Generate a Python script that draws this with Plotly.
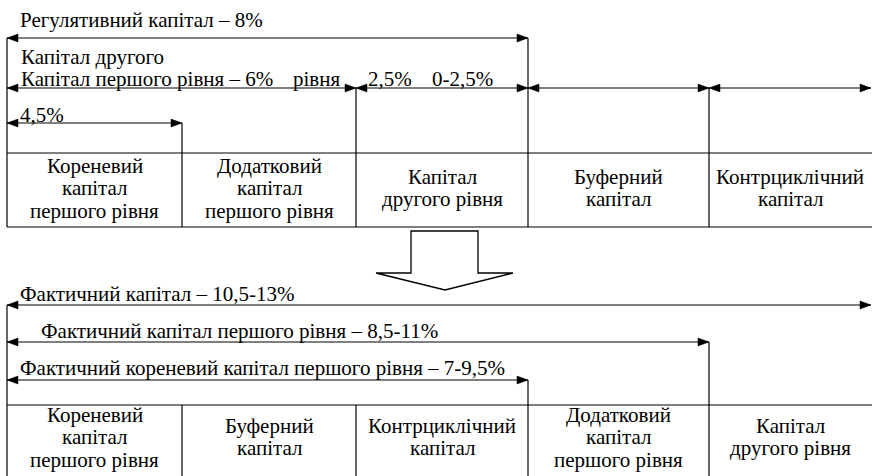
import plotly.graph_objects as go

# ---- data (labels) ----
top_cells = [["Кореневий", "капітал", "першого рівня"],
             ["Додатковий", "капітал", "першого рівня"],
             ["Капітал", "другого рівня"],
             ["Буферний", "капітал"],
             ["Контрциклічний", "капітал"]]
bottom_cells = [["Кореневий", "капітал", "першого рівня"],
                ["Буферний", "капітал"],
                ["Контрциклічний", "капітал"],
                ["Додатковий", "капітал", "першого рівня"],
                ["Капітал", "другого рівня"]]
top_spans = [("Регулятивний капітал – 8%", 0, 3),
             ("Капітал першого рівня – 6%", 0, 2),
             ("4,5%", 0, 1)]
row2_extra = [(2, 3), (3, 4), (4, 5)]
row2_texts = ["Капітал другого", "рівня", "2,5%", "0-2,5%"]
bottom_spans = [("Фактичний капітал – 10,5-13%", 0, 5),
                ("Фактичний капітал першого рівня – 8,5-11%", 0, 4),
                ("Фактичний кореневий капітал першого рівня – 7-9,5%", 0, 3)]

# ---- layout constants ----
W, H = 872, 476
XB = [7, 182, 356, 528, 709, 871]
FONT = "Liberation Serif"
FS = 21
LS = 22.5
top_arrow_y = [38, 88, 123]
top_table = (153, 227)
bot_arrow_y = [305, 342, 380]
bot_table_top = 405

shapes = []
annos = []

def line(x0, y0, x1, y1, w=1.2):
    shapes.append(dict(type="line", x0=x0, y0=y0, x1=x1, y1=y1, xref="x", yref="y",
                       line=dict(color="black", width=w)))

def head(x, y, direction):
    L, h = 11, 4
    if direction > 0:
        p = f"M{x},{y} L{x-L},{y-h} L{x-L},{y+h} Z"
    else:
        p = f"M{x},{y} L{x+L},{y-h} L{x+L},{y+h} Z"
    shapes.append(dict(type="path", path=p, xref="x", yref="y",
                       fillcolor="black", line=dict(color="black", width=0.5)))

def darrow(x0, x1, y):
    line(x0, y, x1, y)
    head(x0, y, -1)
    head(x1, y, 1)

def text(t, x, y, xanchor="left"):
    annos.append(dict(text=t, x=x, y=y, xref="x", yref="y", showarrow=False,
                      xanchor=xanchor, yanchor="middle", borderpad=0,
                      font=dict(family=FONT, size=FS, color="black")))

def cell(lines, x, yc):
    n = len(lines)
    for i, t in enumerate(lines):
        text(t, x, yc + (i - (n - 1) / 2) * LS, xanchor="center")

# ---- top part ----
for (lab, a, b), y in zip(top_spans, top_arrow_y):
    darrow(XB[a], XB[b], y)
for a, b in row2_extra:
    darrow(XB[a], XB[b], top_arrow_y[1])
text(top_spans[0][0], 19, 20)
text(row2_texts[0], 20, 57)
text(top_spans[1][0], 20, 79)
text(row2_texts[1], 292, 79)
text(row2_texts[2], 367, 79)
text(row2_texts[3], 431, 79)
text(top_spans[2][0], 19, 115)

line(XB[0], top_arrow_y[0], XB[0], top_table[1])
line(XB[1], top_arrow_y[2], XB[1], top_table[1])
line(XB[2], top_arrow_y[1], XB[2], top_table[1])
line(XB[3], top_arrow_y[0], XB[3], top_table[1])
line(XB[4], top_arrow_y[1], XB[4], top_table[1])
line(XB[0], top_table[0], W, top_table[0])
line(XB[0], top_table[1], W, top_table[1])
for i, c in enumerate(top_cells):
    cell(c, (XB[i] + XB[i + 1]) / 2, 188)

# ---- block arrow ----
shapes.append(dict(type="path", xref="x", yref="y",
                   path="M411,231 L478,231 L478,273 L513,273 L445,290 L376,273 L411,273 Z",
                   fillcolor="white", line=dict(color="black", width=1.3)))

# ---- bottom part ----
for (lab, a, b), y in zip(bottom_spans, bot_arrow_y):
    darrow(XB[a], XB[b], y)
text(bottom_spans[0][0], 19, 294)
text(bottom_spans[1][0], 40, 331)
text(bottom_spans[2][0], 19, 368)

line(XB[0], bot_arrow_y[0], XB[0], H)
line(XB[1], bot_table_top, XB[1], H)
line(XB[2], bot_table_top, XB[2], H)
line(XB[3], bot_arrow_y[2], XB[3], H)
line(XB[4], bot_arrow_y[1], XB[4], H)
line(XB[0], bot_table_top, W, bot_table_top)
for i, c in enumerate(bottom_cells):
    cell(c, (XB[i] + XB[i + 1]) / 2, 437)

fig = go.Figure()
fig.update_layout(
    width=W, height=H, margin=dict(l=0, r=0, t=0, b=0),
    paper_bgcolor="white", plot_bgcolor="white",
    xaxis=dict(range=[0, W], visible=False, fixedrange=True),
    yaxis=dict(range=[H, 0], visible=False, fixedrange=True),
    shapes=shapes, annotations=annos, showlegend=False,
)
fig.write_html("out.html", config={"displayModeBar": False},
               post_script="document.body.style.margin='0';document.body.style.overflow='hidden';")
